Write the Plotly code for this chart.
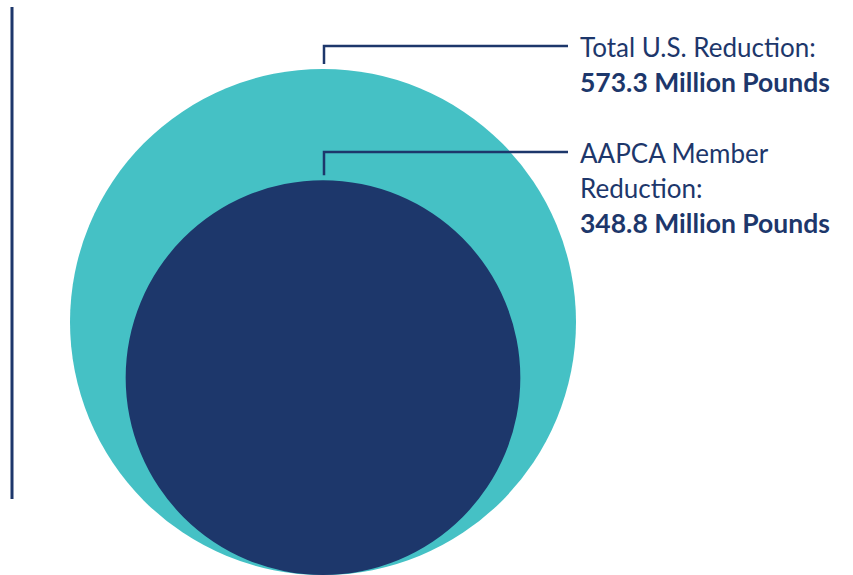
import math
import plotly.graph_objects as go

# Data
categories = ["Total U.S. Reduction:", "AAPCA Member Reduction:"]
values = [573.3, 348.8]  # million pounds
label_lines = [
    ["Total U.S. Reduction:", "<b>573.3 Million Pounds</b>"],
    ["AAPCA Member", "Reduction:", "<b>348.8 Million Pounds</b>"],
]
colors = ["#45c1c5", "#1d376b"]
navy = "#1d376b"

W, H = 853, 575
cx = 323
base_y = 575          # circles share a common bottom
R_max = 253           # radius of the largest circle

fig = go.Figure()
fig.add_trace(go.Scatter(x=[0, W], y=[0, H], mode="markers",
                         marker=dict(opacity=0), hoverinfo="skip", showlegend=False))

shapes = []
annotations = []
label_y_top = [47, 153]
line_gap = 35
for i, (v, col) in enumerate(zip(values, colors)):
    r = R_max * math.sqrt(v / values[0])
    cy = base_y - r
    shapes.append(dict(type="circle", xref="x", yref="y",
                       x0=cx - r, x1=cx + r, y0=cy - r, y1=cy + r,
                       fillcolor=col, line=dict(width=0), layer="below"))
    top = cy - r
    ly = label_y_top[i]
    shapes.append(dict(type="path", xref="x", yref="y",
                       path=f"M {cx+1},{top-5} L {cx+1},{ly-1} L 568,{ly-1}",
                       line=dict(color=navy, width=2.5)))
    for j, txt in enumerate(label_lines[i]):
        bold = txt.startswith("<b>")
        annotations.append(dict(x=578, y=ly + j * line_gap, xref="x", yref="y",
                                text=txt, showarrow=False, xanchor="left", yanchor="middle",
                                font=dict(family="Lato", size=26.5 if bold else 26, color=navy)))

# vertical rule on the left
shapes.append(dict(type="line", xref="x", yref="y", x0=12, x1=12, y0=7, y1=499,
                   line=dict(color=navy, width=3)))

fig.update_layout(
    width=W, height=H, margin=dict(l=0, r=0, t=0, b=0),
    paper_bgcolor="white", plot_bgcolor="white",
    xaxis=dict(range=[0, W], visible=False, fixedrange=True),
    yaxis=dict(range=[H, 0], visible=False, fixedrange=True),
    shapes=shapes, annotations=annotations, showlegend=False,
)
fig.write_html("out.html", config={"displayModeBar": False},
               post_script="document.body.style.margin='0';document.body.style.overflow='hidden';")
